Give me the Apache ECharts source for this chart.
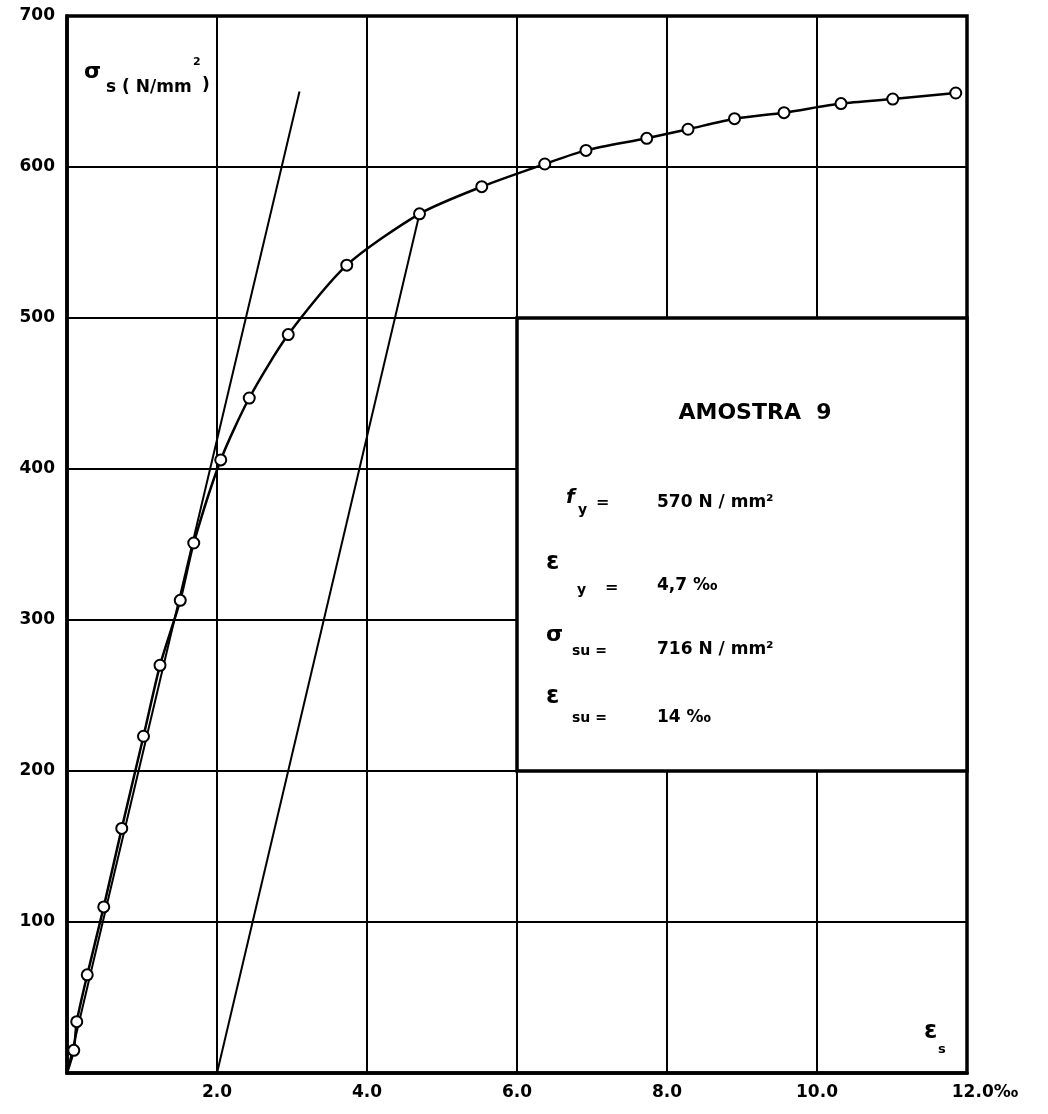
<!DOCTYPE html>
<html>
<head>
<meta charset="utf-8">
<script src="https://cdn.jsdelivr.net/npm/echarts@6/dist/echarts.min.js"></script>
<style>
html,body{margin:0;padding:0;background:#fff;}
#chart{width:1048px;height:1114px;}
</style>
</head>
<body>
<div id="chart"></div>
<script>
// ---- data ----
const strain = [0.09, 0.13, 0.27, 0.49, 0.73, 1.02, 1.24, 1.51, 1.69, 2.05, 2.43, 2.95, 3.73, 4.70, 5.53, 6.37, 6.92, 7.73, 8.28, 8.90, 9.56, 10.32, 11.01, 11.85];
const stress = [15, 34, 65, 110, 162, 223, 270, 313, 351, 406, 447, 489, 535, 569, 587, 602, 611, 619, 625, 632, 636, 642, 645, 649];
const tangentX = [0, 3.1];
const tangentY = [0, 650];
const offsetX = [2.0, 4.70];
const offsetY = [0, 569];
const boxRange = [6, 200, 12, 500]; // xmin, ymin, xmax, ymax of the info box
const xTickLabels = ['', '2.0', '4.0', '6.0', '8.0', '10.0', '12.0‰'];
const yTickLabels = ['', '100', '200', '300', '400', '500', '600', '700'];

const FONT = 'DejaVu Sans';
const chart = echarts.init(document.getElementById('chart'));

const curveData = [{value: [0, 0], symbol: 'none'}].concat(strain.map((x, i) => [x, stress[i]]));

function txt(x, y, text, size, opts) {
  opts = opts || {};
  return {
    type: 'text', x: x, y: y, z: 100,
    style: {
      text: text,
      font: (opts.italic ? 'italic ' : '') + 'bold ' + size + 'px "' + FONT + '"',
      fill: '#000',
      textAlign: opts.align || 'left',
      textVerticalAlign: 'middle',
      align: opts.align || 'left',
      verticalAlign: 'middle'
    }
  };
}

const option = {
  backgroundColor: '#fff',
  animation: false,
  grid: {left: 67, right: 81, top: 16, bottom: 41, show: true, borderColor: '#000', borderWidth: 3.5, backgroundColor: 'transparent'},
  xAxis: {
    type: 'value', min: 0, max: 12, interval: 2,
    axisLine: {show: true, lineStyle: {color: '#000', width: 3.5}},
    axisTick: {show: false},
    splitLine: {show: true, lineStyle: {color: '#000', width: 2}},
    axisLabel: {
      color: '#000', fontFamily: FONT, fontWeight: 'bold', fontSize: 17, margin: 11,
      formatter: function (v) {
        const i = Math.round(v / 2);
        return i === 6 ? '{last|' + xTickLabels[i] + '}' : xTickLabels[i];
      },
      rich: {last: {color: '#000', fontFamily: FONT, fontWeight: 'bold', fontSize: 17, padding: [0, 0, 0, 36]}}
    }
  },
  yAxis: {
    type: 'value', min: 0, max: 700, interval: 100,
    axisLine: {show: true, lineStyle: {color: '#000', width: 3.5}},
    axisTick: {show: false},
    splitLine: {show: true, lineStyle: {color: '#000', width: 2}},
    axisLabel: {
      color: '#000', fontFamily: FONT, fontWeight: 'bold', fontSize: 17, margin: 12,
      formatter: v => yTickLabels[Math.round(v / 100)]
    }
  },
  series: [
    {
      type: 'custom', z: 1,
      data: [boxRange],
      renderItem: function (params, api) {
        const p1 = api.coord([api.value(0), api.value(3)]);
        const p2 = api.coord([api.value(2), api.value(1)]);
        return {
          type: 'rect',
          shape: {x: p1[0], y: p1[1], width: p2[0] - p1[0], height: p2[1] - p1[1]},
          style: {fill: '#fff', stroke: '#000', lineWidth: 3.5}
        };
      },
      silent: true
    },
    {
      type: 'line', z: 3, data: tangentX.map((x, i) => [x, tangentY[i]]),
      symbol: 'none', lineStyle: {color: '#000', width: 2}
    },
    {
      type: 'line', z: 3, data: offsetX.map((x, i) => [x, offsetY[i]]),
      symbol: 'none', lineStyle: {color: '#000', width: 2}
    },
    {
      type: 'line', z: 5, data: curveData, smooth: 0.25,
      symbol: 'circle', symbolSize: 11,
      itemStyle: {color: '#fff', borderColor: '#000', borderWidth: 2},
      lineStyle: {color: '#000', width: 2.5}
    }
  ],
  graphic: [
    // y-axis title
    txt(84, 72, 'σ', 22),
    txt(106, 88, 's ( N/mm', 17),
    txt(193, 62, '2', 11),
    txt(202, 86, ')', 17),
    // x-axis title
    txt(924, 1032, 'ε', 24),
    txt(938, 1050, 's', 13),
    // info box
    txt(755, 413, 'AMOSTRA  9', 22, {align: 'center'}),
    txt(566, 498, 'f', 20, {italic: true}),
    txt(578, 510, 'y', 14),
    txt(596, 503, '=', 16),
    txt(657, 503, '570 N / mm²', 17),
    txt(546, 563, 'ε', 24),
    txt(577, 590, 'y', 14),
    txt(605, 588, '=', 16),
    txt(657, 586, '4,7 ‰', 17),
    txt(546, 635, 'σ', 22),
    txt(572, 651, 'su =', 14),
    txt(657, 650, '716 N / mm²', 17),
    txt(546, 697, 'ε', 24),
    txt(572, 718, 'su =', 14),
    txt(657, 718, '14 ‰', 17)
  ]
};
chart.setOption(option);
</script>
</body>
</html>
